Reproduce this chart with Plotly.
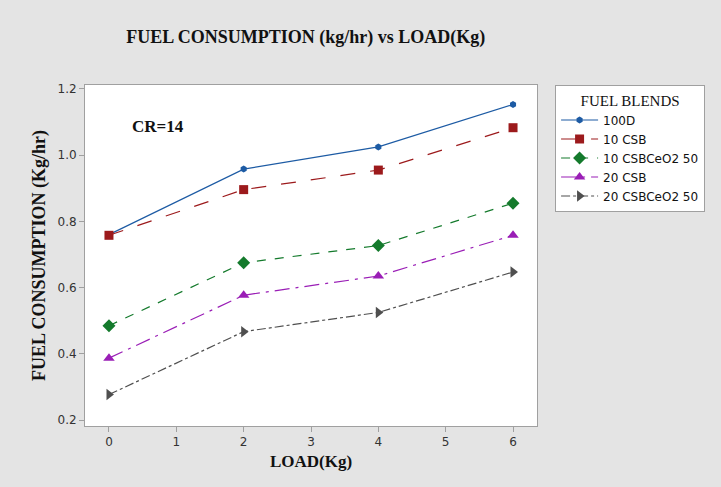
import plotly.graph_objects as go

load = [0, 2, 4, 6]
names = ["100D", "10 CSB", "10 CSBCeO2 50", "20 CSB", "20 CSBCeO2 50"]
v_100d = [0.76, 0.958, 1.025, 1.153]
v_10csb = [0.758, 0.896, 0.955, 1.083]
v_10ceo = [0.485, 0.675, 0.727, 0.855]
v_20csb = [0.387, 0.577, 0.635, 0.758]
v_20ceo = [0.277, 0.467, 0.525, 0.647]
series = [v_100d, v_10csb, v_10ceo, v_20csb, v_20ceo]
colors = ["#1d5ba4", "#9c1a1c", "#147a2c", "#9a1eb6", "#4f4f4f"]
dashes = ["solid", "longdash", "dash", "longdashdot", "dashdot"]
symbols = ["hexagon", "square", "diamond", "triangle-up", "triangle-right"]
sizes = [7, 9, 10, 10, 10]

fig = go.Figure()
for n, v, c, d, s, sz in zip(names, series, colors, dashes, symbols, sizes):
    fig.add_trace(go.Scatter(x=load, y=v, name=n, mode="lines+markers",
                             line=dict(color=c, width=1.2, dash=d),
                             marker=dict(color=c, symbol=s, size=sz)))

serif = "Liberation Serif"
sans = "DejaVu Sans"
fig.update_layout(
    width=721, height=487,
    paper_bgcolor="#e4e4e4", plot_bgcolor="white",
    margin=dict(l=85, r=184, t=85, b=61),
    title=dict(text="<b>FUEL CONSUMPTION (kg/hr) vs LOAD(Kg)</b>",
               font=dict(family=serif, size=18, color="#111"),
               x=0.424, xanchor="center", y=0.925, yanchor="middle"),
    xaxis=dict(range=[-0.356, 6.356], tickvals=[0, 1, 2, 3, 4, 5, 6],
               showgrid=False, zeroline=False, showline=True, mirror=True,
               linecolor="#a0a0a0", linewidth=1, ticks="outside", ticklen=5,
               tickcolor="#a0a0a0", tickfont=dict(family=sans, size=12, color="#333"),
               title=dict(text="<b>LOAD(Kg)</b>", font=dict(family=serif, size=17, color="#111"),
                          standoff=6)),
    yaxis=dict(range=[0.182, 1.212], tickvals=[0.2, 0.4, 0.6, 0.8, 1.0, 1.2],
               tickformat=".1f",
               showgrid=False, zeroline=False, showline=True, mirror=True,
               linecolor="#a0a0a0", linewidth=1, ticks="outside", ticklen=5,
               tickcolor="#a0a0a0", tickfont=dict(family=sans, size=12, color="#333"),
               title=dict(text="<b>FUEL CONSUMPTION (Kg/hr)</b>",
                          font=dict(family=serif, size=18, color="#111"), standoff=7)),
    legend=dict(x=1.04, xanchor="left", y=1.0, yanchor="top",
                bgcolor="white", bordercolor="#a0a0a0", borderwidth=1,
                font=dict(family=sans, size=12, color="#111"),
                title=dict(text="FUEL BLENDS", side="top center",
                           font=dict(family=serif, size=15, color="#111")),
                tracegroupgap=0, itemwidth=37),
    annotations=[dict(text="<b>CR=14</b>", x=0.10, y=0.877, xref="paper", yref="paper",
                      xanchor="left", yanchor="middle", showarrow=False,
                      font=dict(family=serif, size=17, color="#111"))],
)
fig.write_html("out.html")
